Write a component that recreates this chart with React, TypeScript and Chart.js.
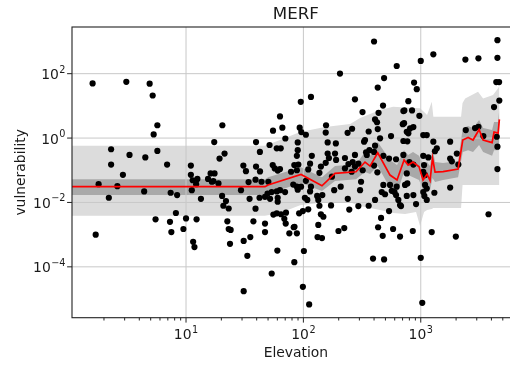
import React, { useEffect, useRef } from 'react';
import { Chart, registerables } from 'chart.js';

Chart.register(...registerables);

// Observations: elevation (x) and vulnerability (y)
const elevation: number[] = [
  1.6, 3.1, 4.9, 5.2, 5.7, 5.3, 2.3, 3.3, 4.5, 5.7, 2.3, 6.9, 2.9, 1.8, 2.6, 2.2, 4.4, 7.4, 8.4, 8.2,
  5.5, 7.3, 9.5, 1.7, 7.5, 10, 11, 11, 11.4, 12.5, 12.2, 11.2, 13.4, 12.3, 11.5, 11.8, 15.4, 16.2, 17.5, 17.4,
  20.4, 19.3, 21.3, 17.1, 18.9, 20.3, 21.9, 20.8, 23.1, 22.5, 23.1, 24.0, 23.7, 29.4, 30.8, 32.4, 34.1, 34.8, 39.1, 37.5,
  31.0, 35.3, 33.3, 31.0, 39.5, 42.6, 39.5, 42.7, 39.1, 44.0, 42.3, 51.5, 55.1, 63.2, 66.2, 70.2, 59.3, 64.1, 54.8, 57.0,
  63.2, 60.4, 83.7, 50.3, 49.5, 47.1, 53.7, 52.0, 59.3, 63.2, 69.8, 60.4, 60.4, 55.5, 59.3, 64.5, 71.1, 68.8, 70.7, 47.1,
  47.1, 75.9, 82.7, 60.0, 53.7, 83.7, 400, 624, 205, 487, 430, 95, 116, 275, 477, 319, 437, 408, 424, 711,
  703, 93, 96, 105, 156, 155, 260, 238, 360, 430, 558, 450, 335, 89.5, 89.5, 88, 90.6, 88, 78.5, 82,
  88, 95.5, 103, 108, 99, 92, 84, 88, 101, 118, 114, 110, 105, 116, 114, 131, 145, 137, 141, 148,
  134, 132, 144, 161, 161, 165, 141, 137, 186, 190, 175, 183, 172, 199, 208, 226, 226, 242, 239, 246,
  263, 275, 258, 294, 304, 310, 320, 342, 365, 360, 329, 400, 400, 427, 480, 480, 496, 459, 474, 537,
  547, 566, 616, 624, 616, 644, 666, 666, 711, 711, 189, 275, 347, 408, 537, 99, 112, 223, 392, 487,
  433, 581, 408, 465, 596, 134, 89.5, 4500, 1280, 1000, 2400, 3100, 4500, 4400, 4650, 877, 925, 784, 4670, 4210,
  725, 843, 973, 721, 865, 760, 784, 811, 1050, 1125, 2420, 2900, 3100, 3415, 4440, 1280, 1780, 1370, 1320, 2030,
  1780, 1840, 2090, 1050, 1067, 1050, 1088, 760, 800, 865, 769, 735, 1088, 1125, 1780, 760, 865, 912, 1050, 1073,
  1125, 1306, 679, 4500, 4500, 3780, 855, 1240, 1990, 1000, 1030, 769, 1160, 16.6, 155, 294, 110,
];

const vulnerability: number[] = [
  50, 56, 49, 21, 2.5, 1.3, 0.45, 0.30, 0.25, 0.40, 0.15, 0.15, 0.072, 0.037, 0.032, 0.014, 0.022, 0.020, 0.017, 0.0047,
  0.0030, 0.0025, 0.0015, 0.0010, 0.0012, 0.0032, 0.14, 0.072, 0.049, 0.054, 0.037, 0.024, 0.013, 0.0030, 0.00060, 0.00041, 0.054, 0.080, 0.080, 0.75,
  2.5, 0.23, 0.33, 0.046, 0.039, 0.016, 0.011, 0.0079, 0.0065, 0.0026, 0.0015, 0.0014, 0.00052, 0.024, 0.14, 0.094, 0.043, 0.013, 0.0064, 0.0026,
  0.00064, 0.00084, 0.00022, 0.0000175, 0.75, 0.37, 0.13, 0.092, 0.051, 0.044, 0.014, 0.61, 1.7, 4.7, 2.1, 0.97, 0.48, 0.48, 0.145, 0.114,
  0.109, 0.098, 0.145, 0.044, 0.019, 0.015, 0.021, 0.013, 0.022, 0.024, 0.021, 0.014, 0.0105, 0.0042, 0.0046, 0.0043, 0.0048, 0.0031, 0.0022, 0.0022,
  0.0012, 0.0011, 0.0017, 0.00032, 0.000062, 0.00014, 1000, 173, 101, 73, 37, 13.4, 19, 16, 10.2, 6.4, 6.1, 3.8, 3.1, 6.9,
  2.7, 2.1, 1.54, 1.27, 2.5, 1.48, 1.95, 1.46, 1.6, 1.9, 1.15, 0.98, 0.87, 0.73, 0.42, 0.28, 0.15, 0.10, 0.090, 0.036,
  0.031, 0.031, 0.014, 0.012, 0.0054, 0.0046, 0.00175, 0.0011, 0.00031, 0.28, 0.16, 0.106, 0.047, 0.031, 0.022, 0.016, 0.017, 0.0079, 0.0043, 0.0036,
  0.0020, 0.00084, 0.00078, 0.73, 0.33, 0.24, 0.13, 0.083, 0.33, 0.21, 0.063, 0.024, 0.0081, 0.0013, 0.031, 0.24, 0.114, 0.156, 0.013, 0.006,
  0.18, 0.30, 0.090, 0.0077, 0.024, 0.044, 0.10, 0.36, 0.42, 0.0079, 0.77, 0.37, 0.14, 0.086, 0.28, 0.035, 0.018, 0.0033, 0.00092, 0.0054,
  0.035, 0.023, 0.22, 0.031, 0.017, 0.012, 0.0083, 0.00087, 0.30, 0.81, 0.68, 0.13, 0.30, 0.58, 0.23, 0.000024, 0.0000068, 0.0016, 0.00018, 0.00017,
  0.0017, 0.0015, 0.012, 0.021, 0.021, 0.012, 0.025, 1100, 400, 250, 275, 300, 310, 55, 55, 53, 33, 14, 14.6, 9.2,
  7.2, 7.2, 4.9, 2.9, 2.2, 1.57, 1.4, 2.0, 1.24, 1.24, 1.77, 2.05, 2.25, 1.15, 1.1, 0.77, 0.77, 0.48, 0.39, 0.33,
  0.23, 0.19, 0.15, 0.28, 0.145, 0.090, 0.071, 0.080, 0.18, 0.15, 0.039, 0.035, 0.035, 0.027, 0.029, 0.016, 0.017, 0.0089, 0.021, 0.016,
  0.012, 0.020, 0.0077, 0.54, 0.109, 0.0043, 0.0013, 0.0012, 0.00087, 0.00019, 0.0000076, 0.79, 0.25, 0.044, 0.17, 0.16, 0.0061,
];

// Model fit: median prediction with its inner interval
const fitElevation: number[] = [
  1.0, 47.1, 50, 95.5, 144, 186, 281, 335, 370, 430, 547, 628, 721, 780, 859, 967,
  1046, 1132, 1200, 1260, 1324, 1549, 2080, 2280, 2530, 2790, 3140, 3400, 4053, 4213, 4560, 4676,
];
const fitMedian: number[] = [
  0.031, 0.031, 0.035, 0.074, 0.033, 0.080, 0.090, 0.18, 0.135, 0.35, 0.071, 0.050, 0.21, 0.145, 0.18, 0.128,
  0.050, 0.076, 0.048, 0.24, 0.088, 0.091, 0.109, 0.87, 1.05, 0.87, 1.84, 0.87, 0.72, 1.54, 1.43, 3.8,
];
const fitInnerUpper: number[] = [
  0.053, 0.053, 0.061, 0.125, 0.061, 0.135, 0.155, 0.37, 0.28, 0.75, 0.21, 0.145, 0.42, 0.30, 0.37, 0.28,
  0.145, 0.18, 0.135, 0.49, 0.18, 0.167, 0.193, 2.05, 2.36, 2.05, 3.63, 2.05, 1.77, 3.14, 3.14, 8.6,
];
const fitInnerLower: number[] = [
  0.0169, 0.0169, 0.0182, 0.040, 0.0225, 0.046, 0.053, 0.088, 0.076, 0.135, 0.028, 0.0195, 0.088, 0.071, 0.061, 0.050,
  0.024, 0.035, 0.024, 0.057, 0.043, 0.050, 0.061, 0.37, 0.42, 0.37, 0.61, 0.37, 0.28, 0.42, 0.42, 0.49,
];

// Outer prediction envelope
const envElevation: number[] = [
  1.0, 47.1, 63.2, 93.7, 153, 250, 304, 450, 581, 735, 912, 986, 1067, 1132, 1241, 1280,
  2080, 2205, 2270, 2390, 3076, 3396, 4130, 4560, 4676,
];
const envUpper: number[] = [
  0.576, 0.576, 0.867, 1.54, 2.2, 2.72, 4.18, 7.42, 9.4, 8.87, 8.56, 8.38, 6.43, 5.19, 13.4, 4.59,
  4.59, 4.59, 12.2, 17.1, 27.5, 17.1, 21.7, 35.1, 41.3,
];
const envLower: number[] = [
  0.00384, 0.00384, 0.00467, 0.00826, 0.0102, 0.0102, 0.00769, 0.00578, 0.00467, 0.00434, 0.00501, 0.00184, 0.00501, 0.00578, 0.00621, 0.00667,
  0.00667, 0.00667, 0.0346, 0.0346, 0.0346, 0.0346, 0.0346, 0.0346, 0.0346,
];

const xTickExponents = [1, 2, 3];
const yTickExponents = [-4, -2, 0, 2];
const xMinorDecades = [0, 1, 2, 3];

const X_MIN = 1.068;
const X_MAX = 6980;
const Y_MIN = 2.63e-6;
const Y_MAX = 2820;

const FONT = '"DejaVu Sans", sans-serif';
const TEXT = '#1a1a1a';
const GRID = '#c8c8c8';

const toPoints = (xs: number[], ys: number[]) => xs.map((x, i) => ({ x, y: ys[i] }));

function drawPower(ctx: CanvasRenderingContext2D, exp: number, x: number, baseline: number, align: 'center' | 'right') {
  const base = '10';
  const sup = exp < 0 ? '\u2212' + String(-exp) : String(exp);
  ctx.font = `13.9px ${FONT}`;
  const wb = ctx.measureText(base).width;
  ctx.font = `9.7px ${FONT}`;
  const ws = ctx.measureText(sup).width;
  const total = wb + ws + 0.5;
  const left = align === 'right' ? x - total : x - total / 2;
  ctx.textAlign = 'left';
  ctx.textBaseline = 'alphabetic';
  ctx.font = `13.9px ${FONT}`;
  ctx.fillText(base, left, baseline);
  ctx.font = `9.7px ${FONT}`;
  ctx.fillText(sup, left + wb + 0.5, baseline - 6.5);
}

const axesPlugin = {
  id: 'mplAxes',
  beforeDatasetsDraw(chart: any) {
    const { ctx, chartArea: a, scales } = chart;
    const xs = scales.x;
    const ys = scales.y;
    ctx.save();
    ctx.strokeStyle = GRID;
    ctx.lineWidth = 1;
    for (const e of xTickExponents) {
      const px = xs.getPixelForValue(10 ** e);
      ctx.beginPath();
      ctx.moveTo(px, a.top);
      ctx.lineTo(px, a.bottom);
      ctx.stroke();
    }
    for (const e of yTickExponents) {
      const py = ys.getPixelForValue(10 ** e);
      ctx.beginPath();
      ctx.moveTo(a.left, py);
      ctx.lineTo(a.right, py);
      ctx.stroke();
    }
    ctx.restore();
  },
  afterDraw(chart: any) {
    const { ctx, chartArea: a, scales } = chart;
    const xs = scales.x;
    const ys = scales.y;
    ctx.save();
    // frame
    ctx.strokeStyle = '#222';
    ctx.lineWidth = 1.1;
    ctx.strokeRect(a.left, a.top, a.right - a.left, a.bottom - a.top);

    // ticks
    ctx.lineWidth = 1;
    ctx.beginPath();
    for (const e of xTickExponents) {
      const px = xs.getPixelForValue(10 ** e);
      ctx.moveTo(px, a.bottom);
      ctx.lineTo(px, a.bottom + 4.9);
    }
    for (const d of xMinorDecades) {
      for (let m = 2; m <= 9; m++) {
        const v = m * 10 ** d;
        if (v < X_MIN || v > X_MAX) continue;
        const px = xs.getPixelForValue(v);
        ctx.moveTo(px, a.bottom);
        ctx.lineTo(px, a.bottom + 2.8);
      }
    }
    for (const e of yTickExponents) {
      const py = ys.getPixelForValue(10 ** e);
      ctx.moveTo(a.left - 4.9, py);
      ctx.lineTo(a.left, py);
    }
    ctx.stroke();

    // tick labels
    ctx.fillStyle = TEXT;
    for (const e of xTickExponents) {
      const px = xs.getPixelForValue(10 ** e);
      drawPower(ctx, e, px, a.bottom + 21.3, 'center');
    }
    for (const e of yTickExponents) {
      const py = ys.getPixelForValue(10 ** e);
      drawPower(ctx, e, a.left - 6.5, py + 5.5, 'right');
    }

    // axis titles and chart title
    const cx = (a.left + a.right) / 2;
    ctx.textAlign = 'center';
    ctx.textBaseline = 'alphabetic';
    ctx.font = `13.9px ${FONT}`;
    ctx.fillText('Elevation', cx, a.bottom + 39);

    ctx.save();
    ctx.translate(24.5, (a.top + a.bottom) / 2);
    ctx.rotate(-Math.PI / 2);
    ctx.fillText('vulnerability', 0, 0);
    ctx.restore();

    ctx.font = `16.7px ${FONT}`;
    ctx.fillText('MERF', cx, a.top - 7.7);
    ctx.restore();
  },
};

export default function App() {
  const canvasRef = useRef<HTMLCanvasElement | null>(null);

  useEffect(() => {
    document.body.style.margin = '0';
    const canvas = canvasRef.current;
    if (!canvas) return;
    const chart = new Chart(canvas, {
      type: 'line',
      data: {
        datasets: [
          {
            label: 'median',
            data: toPoints(fitElevation, fitMedian),
            borderColor: '#ff0000',
            borderWidth: 1.7,
            pointRadius: 0,
            fill: false,
            tension: 0,
          },
          {
            label: 'observations',
            data: toPoints(elevation, vulnerability),
            showLine: false,
            pointRadius: 3.1,
            pointBackgroundColor: '#000',
            pointBorderColor: '#000',
            pointBorderWidth: 0,
            fill: false,
          },
          {
            label: 'inner upper',
            data: toPoints(fitElevation, fitInnerUpper),
            borderWidth: 0,
            borderColor: 'rgba(0,0,0,0)',
            pointRadius: 0,
            fill: '+1',
            backgroundColor: '#a9a9a9',
            tension: 0,
          },
          {
            label: 'inner lower',
            data: toPoints(fitElevation, fitInnerLower),
            borderWidth: 0,
            borderColor: 'rgba(0,0,0,0)',
            pointRadius: 0,
            fill: false,
            tension: 0,
          },
          {
            label: 'outer upper',
            data: toPoints(envElevation, envUpper),
            borderWidth: 0,
            borderColor: 'rgba(0,0,0,0)',
            pointRadius: 0,
            fill: '+1',
            backgroundColor: '#dcdcdc',
            tension: 0,
          },
          {
            label: 'outer lower',
            data: toPoints(envElevation, envLower),
            borderWidth: 0,
            borderColor: 'rgba(0,0,0,0)',
            pointRadius: 0,
            fill: false,
            tension: 0,
          },
        ],
      },
      options: {
        animation: false,
        responsive: false,
        maintainAspectRatio: false,
        events: [],
        layout: { autoPadding: false, padding: { top: 27, left: 0, right: 10.2, bottom: 0 } },
        plugins: {
          legend: { display: false },
          tooltip: { enabled: false },
          title: { display: false },
          filler: { drawTime: 'beforeDatasetsDraw' },
        },
        scales: {
          x: {
            type: 'logarithmic',
            min: X_MIN,
            max: X_MAX,
            grid: { display: false },
            border: { display: false },
            ticks: { display: false },
            afterFit: (s: any) => { s.height = 49.3; },
          },
          y: {
            type: 'logarithmic',
            min: Y_MIN,
            max: Y_MAX,
            grid: { display: false },
            border: { display: false },
            ticks: { display: false },
            afterFit: (s: any) => { s.width = 72; },
          },
        },
      } as any,
      plugins: [axesPlugin],
    });
    return () => chart.destroy();
  }, []);

  return (
    <div style={{ position: 'absolute', left: 0, top: 0, width: 510, height: 367, overflow: 'hidden', background: '#fff' }}>
      <canvas ref={canvasRef} width={530} height={367} style={{ width: 530, height: 367, display: 'block' }} />
    </div>
  );
}
